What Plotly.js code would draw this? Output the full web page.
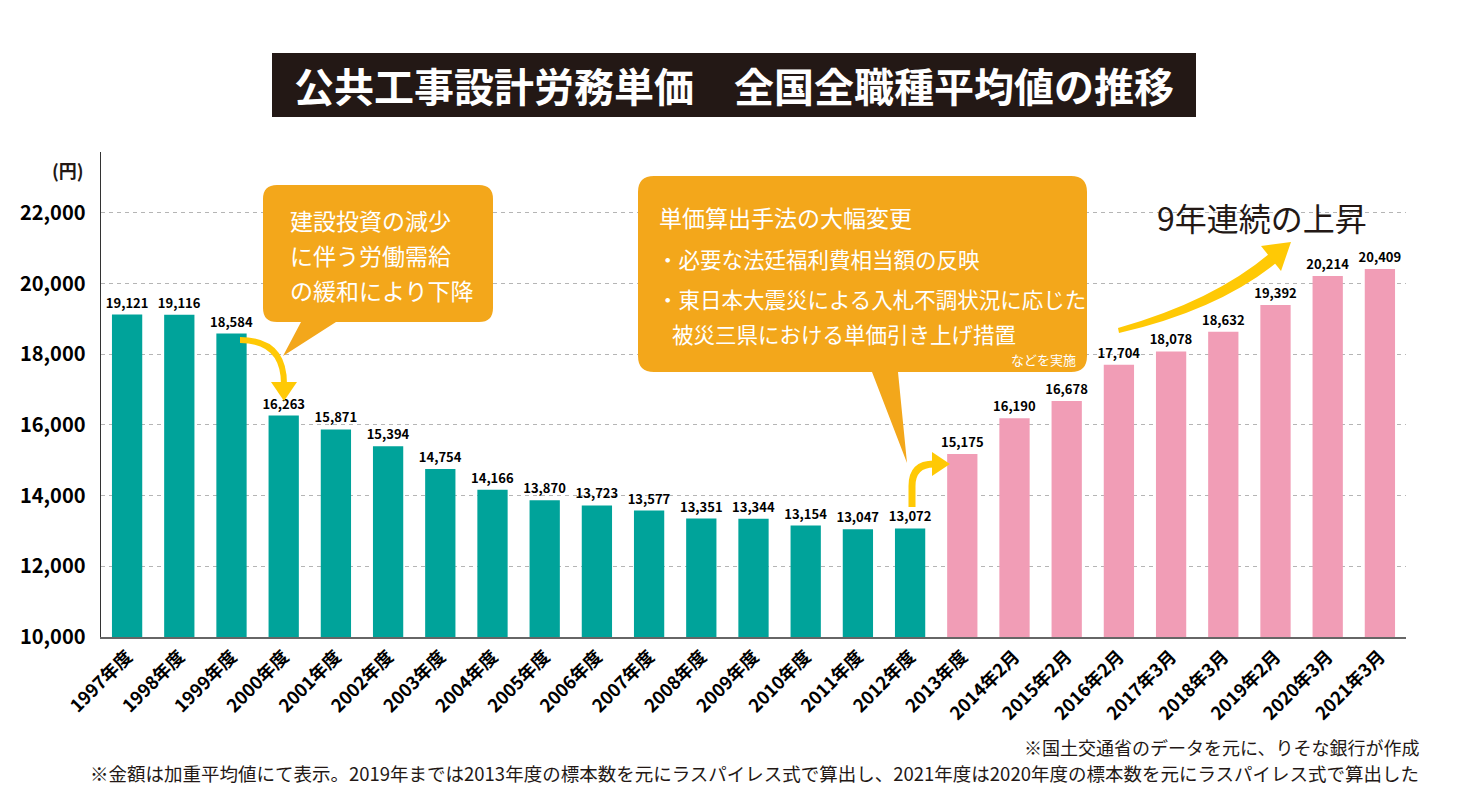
<!DOCTYPE html>
<html>
<head>
<meta charset="utf-8">
<script src="https://cdn.plot.ly/plotly-3.0.1.min.js"></script>
<style>
  html, body { margin: 0; padding: 0; background: #ffffff; }
  #chart { width: 1468px; height: 800px; }
</style>
</head>
<body>
<div id="chart"></div>
<script>
// ---- data ----
const categories = [
  '1997年度','1998年度','1999年度','2000年度','2001年度','2002年度','2003年度','2004年度',
  '2005年度','2006年度','2007年度','2008年度','2009年度','2010年度','2011年度','2012年度',
  '2013年度','2014年2月','2015年2月','2016年2月','2017年3月','2018年3月','2019年2月','2020年3月','2021年3月'
];
const values = [
  19121, 19116, 18584, 16263, 15871, 15394, 14754, 14166,
  13870, 13723, 13577, 13351, 13344, 13154, 13047, 13072,
  15175, 16190, 16678, 17704, 18078, 18632, 19392, 20214, 20409
];
const newMethodFrom = '2013年度';
const yTickVals = [10000, 12000, 14000, 16000, 18000, 20000, 22000];

const titleText = '公共工事設計労務単価　全国全職種平均値の推移';
const unitText = '(円)';
const callout1Lines = ['建設投資の減少', 'に伴う労働需給', 'の緩和により下降'];
const callout2Head = '単価算出手法の大幅変更';
const callout2Lines = ['・必要な法廷福利費相当額の反映', '・東日本大震災による入札不調状況に応じた', '被災三県における単価引き上げ措置'];
const callout2Note = 'などを実施';
const riseText = '9年連続の上昇';
const note1 = '※国土交通省のデータを元に、りそな銀行が作成';
const note2 = '※金額は加重平均値にて表示。2019年までは2013年度の標本数を元にラスパイレス式で算出し、2021年度は2020年度の標本数を元にラスパイレス式で算出した';

// ---- styles ----
const TEAL = '#00A39A';
const PINK = '#F19DB6';
const ORANGE = '#F3A71B';
const YELLOW = '#FFC905';
const FONT = 'Noto Sans CJK JP, Noto Sans, sans-serif';

const splitIdx = categories.indexOf(newMethodFrom);
const barColors = categories.map((c, i) => i >= splitIdx ? PINK : TEAL);

// plot-area geometry (pixels) for decorative overlays
const L = 101, R = 1406, T = 152, B = 637;
const W = 1468, H = 800;
const fx = x => (x - L) / (R - L);
const fy = y => (B - y) / (B - T);
const P = (x, y) => fx(x) + ',' + fy(y);

function roundedCallout(x0, y0, x1, y1, r, tail) {
  return 'M' + P(x0 + r, y0) +
    ' L' + P(x1 - r, y0) + ' Q' + P(x1, y0) + ' ' + P(x1, y0 + r) +
    ' L' + P(x1, y1 - r) + ' Q' + P(x1, y1) + ' ' + P(x1 - r, y1) +
    ' L' + P(tail[0][0], y1) + ' L' + P(tail[1][0], tail[1][1]) + ' L' + P(tail[2][0], y1) +
    ' L' + P(x0 + r, y1) + ' Q' + P(x0, y1) + ' ' + P(x0, y1 - r) +
    ' L' + P(x0, y0 + r) + ' Q' + P(x0, y0) + ' ' + P(x0 + r, y0) + ' Z';
}

const shapes = [
  // title box
  { type: 'rect', xref: 'paper', yref: 'paper', x0: fx(272), x1: fx(1196), y0: fy(117), y1: fy(53),
    fillcolor: '#231815', line: { width: 0 }, layer: 'above' },
  // callout 1
  { type: 'path', xref: 'paper', yref: 'paper', layer: 'above',
    path: roundedCallout(263, 185, 493, 322, 14, [[336, 322], [283, 356], [301, 322]]),
    fillcolor: ORANGE, line: { width: 0 } },
  // callout 2
  { type: 'path', xref: 'paper', yref: 'paper', layer: 'above',
    path: roundedCallout(638, 176, 1087, 372, 16, [[898, 372], [907, 463], [872, 372]]),
    fillcolor: ORANGE, line: { width: 0 } },
  // arrow 1 (down)
  { type: 'path', xref: 'paper', yref: 'paper', layer: 'above',
    path: 'M' + P(240, 340) + ' Q' + P(284, 340) + ' ' + P(284, 384),
    line: { color: YELLOW, width: 6 } },
  { type: 'path', xref: 'paper', yref: 'paper', layer: 'above',
    path: 'M' + P(271, 382) + ' L' + P(297, 382) + ' L' + P(284, 401) + ' Z',
    fillcolor: YELLOW, line: { width: 0 } },
  // arrow 2 (up then right)
  { type: 'path', xref: 'paper', yref: 'paper', layer: 'above',
    path: 'M' + P(912, 507) + ' L' + P(912, 486) + ' Q' + P(912, 464) + ' ' + P(934, 464),
    line: { color: YELLOW, width: 7 } },
  { type: 'path', xref: 'paper', yref: 'paper', layer: 'above',
    path: 'M' + P(932, 452) + ' L' + P(932, 476) + ' L' + P(950, 464) + ' Z',
    fillcolor: YELLOW, line: { width: 0 } },
  // arrow 3 (big rising arrow, tapered)
  { type: 'path', xref: 'paper', yref: 'paper', layer: 'above',
    path: 'M' + P(1118, 328) + ' Q' + P(1213, 301) + ' ' + P(1269, 254) +
          ' L' + P(1276, 263) + ' Q' + P(1218, 310) + ' ' + P(1119, 333) + ' Z',
    fillcolor: YELLOW, line: { width: 0 } },
  { type: 'path', xref: 'paper', yref: 'paper', layer: 'above',
    path: 'M' + P(1261, 246) + ' L' + P(1291, 242) + ' L' + P(1281, 271) + ' Z',
    fillcolor: YELLOW, line: { width: 0 } }
];

const ann = (x, y, text, opts) => Object.assign({
  xref: 'paper', yref: 'paper', x: fx(x), y: fy(y), text: text, showarrow: false,
  xanchor: 'left', yanchor: 'middle', font: { family: FONT, size: 14, color: '#231815' }
}, opts);

const annotations = [
  ann(734, 85, titleText, { xanchor: 'center', font: { family: FONT, size: 40, color: '#ffffff', weight: 700 } }),
  ann(86, 170, unitText, { xanchor: 'right', font: { family: FONT, size: 18, color: '#231815', weight: 700 } }),
  ann(288, 220, callout1Lines[0], { font: { family: FONT, size: 23, color: '#ffffff' } }),
  ann(288, 255, callout1Lines[1], { font: { family: FONT, size: 23, color: '#ffffff' } }),
  ann(288, 290, callout1Lines[2], { font: { family: FONT, size: 23, color: '#ffffff' } }),
  ann(657, 217, callout2Head, { font: { family: FONT, size: 23, color: '#ffffff' } }),
  ann(655, 258, callout2Lines[0], { font: { family: FONT, size: 21.5, color: '#ffffff' } }),
  ann(655, 298, callout2Lines[1], { font: { family: FONT, size: 21.5, color: '#ffffff' } }),
  ann(670, 333, callout2Lines[2], { font: { family: FONT, size: 21.5, color: '#ffffff' } }),
  ann(1078, 359, callout2Note, { xanchor: 'right', font: { family: FONT, size: 13, color: '#ffffff' } }),
  ann(1262, 217, riseText, { xanchor: 'center', font: { family: FONT, size: 32, color: '#231815' } }),
  ann(1421, 747, note1, { xanchor: 'right', font: { family: FONT, size: 18, color: '#231815' } }),
  ann(1421, 773, note2, { xanchor: 'right', font: { family: FONT, size: 18.5, color: '#231815' } })
];

const trace = {
  type: 'bar',
  x: categories,
  y: values,
  marker: { color: barColors, line: { width: 0 } },
  texttemplate: '%{y:,}',
  textposition: 'outside',
  constraintext: 'none',
  textfont: { family: FONT, size: 13, color: '#000000', weight: 700 },
  cliponaxis: false,
  hoverinfo: 'skip'
};

const layout = {
  width: W, height: H,
  margin: { l: L, r: W - R, t: T, b: H - B },
  paper_bgcolor: '#ffffff', plot_bgcolor: '#ffffff',
  showlegend: false,
  bargap: 0.42,
  font: { family: FONT },
  xaxis: {
    type: 'category',
    range: [-0.5, categories.length - 0.5],
    tickangle: -45,
    tickfont: { family: FONT, size: 18, color: '#000000', weight: 700 },
    showline: true, linecolor: '#666666', linewidth: 2,
    ticks: '', showgrid: false, zeroline: false, fixedrange: true
  },
  yaxis: {
    range: [10000, 23720],
    tickvals: yTickVals,
    tickformat: ',',
    tickfont: { family: FONT, size: 20, color: '#000000', weight: 700 },
    ticklabelstandoff: 10,
    showline: true, linecolor: '#333333', linewidth: 1.5,
    ticks: '',
    showgrid: true, gridcolor: '#b5b5b5', griddash: '4px,4px', gridwidth: 1,
    zeroline: false, fixedrange: true
  },
  shapes: shapes,
  annotations: annotations
};

Plotly.newPlot('chart', [trace], layout, { displayModeBar: false, staticPlot: true });
</script>
</body>
</html>
